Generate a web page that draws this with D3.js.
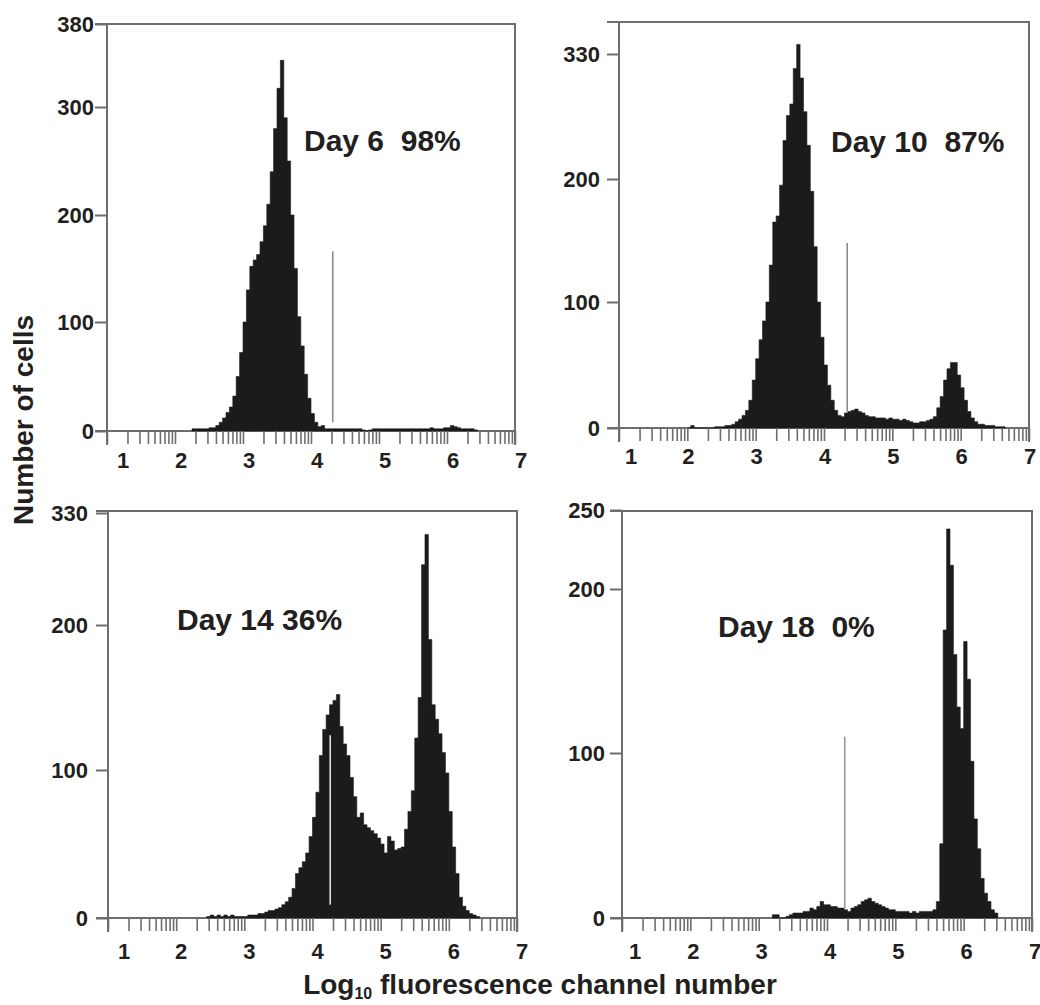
<!DOCTYPE html>
<html>
<head>
<meta charset="utf-8">
<script src="https://cdn.jsdelivr.net/npm/d3@7"></script>
<style>
  body { margin: 0; background: #fff; }
  svg { display: block; }
</style>
</head>
<body>
<div id="container"></div>
<script>
// histogram bins are 0.05 log10 units wide
const binWidth = 0.05

const dayLabels = ["Day 6  98%", "Day 10  87%", "Day 14 36%", "Day 18  0%"]
const binStarts = [2.25, 2.00, 2.45, 3.20]

const countsDay6 = [
    2, 2, 2, 2, 2, 3, 3, 5, 8, 12,
    17, 22, 32, 50, 72, 100, 130, 152, 158, 163,
    175, 190, 210, 240, 280, 318, 345, 290, 250, 200,
    150, 105, 78, 52, 30, 16, 8, 4, 5,
    2, 2, 2, 2, 2, 2, 2, 2, 2, 2, 2,
    1, 0, 1,
    2, 2, 2, 2, 2, 2, 2, 2, 2, 2, 2, 2, 2, 2, 2, 2, 2,
    3, 2, 2, 2, 3, 3, 5, 4, 3, 2, 2, 2, 2, 1
]
const countsDay10 = [
    0, 2, 0, 0, 0, 0, 0, 0, 1, 1,
    1, 2, 2, 3, 5, 7, 10, 14, 22, 38,
    55, 70, 85, 100, 130, 165, 170, 195, 240, 266,
    278, 315, 340, 305, 270, 235, 190, 145, 100, 72,
    50, 34, 22, 14, 10, 9, 12, 13, 14, 15,
    13, 12, 10, 9, 9, 8, 8, 8, 7, 8,
    7, 7, 6, 7, 6, 5, 4, 4, 5, 5,
    6, 7, 9, 16, 25, 38, 47, 52, 52, 42,
    32, 22, 13, 8, 5, 3, 3, 2, 2, 2,
    1, 1, 1
]
const countsDay14 = [
    1, 2, 1, 2, 1, 2, 1, 2, 1, 1,
    1, 1, 2, 2, 2, 3, 3, 4, 5, 5,
    6, 7, 9, 11, 14, 20, 30, 34, 38, 44,
    55, 68, 85, 110, 128, 138, 145, 148, 152, 130,
    118, 110, 95, 82, 68, 71, 63, 61, 59, 57,
    54, 50, 44, 55, 52, 46, 47, 48, 60, 72,
    86, 122, 150, 270, 305, 190, 145, 135, 125, 112,
    98, 72, 48, 30, 14, 8, 5, 3, 2, 1
]
const countsDay18 = [
    2, 2, 0, 0, 1, 2, 3, 3, 3, 4,
    4, 6, 5, 7, 10, 8, 8, 7, 7, 6,
    6, 5, 4, 6, 7, 8, 10, 11, 12, 10,
    9, 8, 7, 6, 5, 5, 4, 4, 4, 4,
    3, 4, 3, 4, 4, 4, 4, 5, 10, 45,
    175, 238, 215, 160, 128, 115, 168, 145, 95, 60,
    42, 24, 15, 10, 5, 3
]

const yTicksDay6 = [0, 100, 200, 300, 380]
const yTicksDay10 = [0, 100, 200, 330]
const yTicksDay14 = [0, 100, 200, 330]
const yTicksDay18 = [0, 100, 200, 250]

const xTickLabels = [1, 2, 3, 4, 5, 6, 7]

// gate marker: position and bottom/top counts
const gatePos = [4.32, 4.34, 4.26, 4.26]
const gateLow = [8, 12, 9, 6]
const gateHigh = [166, 148, 124, 110]

let textColor = "#231f20"
let frameColor = "#6e6e6e"
let histColor = "#1b1b1b"
let font = "'Liberation Sans', Arial, Helvetica, sans-serif"

// layout of each panel (pixels)
let layout = [
    {left: 107, right: 515, top: 24, base: 431, yPx: [431, 322, 215, 107, 24], gap: 13, labelY: 460, shift: 6, firstShift: 16, tx: 304, ty: 151, gateColor: "#8a8a8a"},
    {left: 619, right: 1029, top: 22, base: 428, yPx: [428, 302, 179, 54], gap: 19, labelY: 456, shift: 1, firstShift: 12, tx: 831, ty: 152, gateColor: "#8a8a8a"},
    {left: 108, right: 517, top: 511, base: 918, yPx: [918, 770, 625, 513], gap: 20, labelY: 951, shift: 5, firstShift: 16, tx: 177, ty: 630, gateColor: "#e0e0e0"},
    {left: 622, right: 1032, top: 511, base: 918, yPx: [918, 753, 589, 510], gap: 17, labelY: 951, shift: 3, firstShift: 13, tx: 718, ty: 637, gateColor: "#999999"}
]

let countsAll = [countsDay6, countsDay10, countsDay14, countsDay18]
let yTicksAll = [yTicksDay6, yTicksDay10, yTicksDay14, yTicksDay18]

let panels = layout.map((p, i) => Object.assign({}, p, {
    label: dayLabels[i],
    start: binStarts[i],
    counts: countsAll[i],
    yTicks: yTicksAll[i],
    gate: gatePos[i],
    gateLow: gateLow[i],
    gateHigh: gateHigh[i]
}))

let width = 1040
let height = 1005

let svg = d3.select("#container")
    .append("svg")
    .attr("width", width)
    .attr("height", height)
    .attr("viewBox", [0, 0, width, height])

// minor ticks of a log axis, 10^1 .. 10^7, in log10 units
let minorTicks = d3.scaleLog().domain([1e1, 1e7]).ticks().map(t => Math.log10(t))

function drawPanel(p) {
    let g = svg.append("g")

    let x = d3.scaleLinear()
        .domain([1, 7])
        .range([p.left, p.right])

    let y = d3.scaleLinear()
        .domain(p.yTicks)
        .range(p.yPx)

    // baseline at zero
    g.append("line")
        .attr("x1", p.left - 12)
        .attr("x2", p.right)
        .attr("y1", y(0))
        .attr("y2", y(0))
        .attr("stroke", frameColor)
        .attr("stroke-width", 2)

    // histogram
    let pts = p.counts.map((c, i) => ({v: p.start + i * binWidth, c: c}))
    pts.push({v: p.start + p.counts.length * binWidth, c: 0})

    let area = d3.area()
        .curve(d3.curveStepAfter)
        .x(d => x(d.v))
        .y0(y(0))
        .y1(d => y(d.c))

    g.append("path")
        .datum(pts)
        .attr("fill", histColor)
        .attr("stroke", histColor)
        .attr("stroke-width", 0.6)
        .attr("d", area)

    // log minor ticks under the baseline
    g.append("g")
        .attr("transform", `translate(0,${p.base})`)
        .call(d3.axisBottom(x).tickValues(minorTicks).tickSize(13).tickFormat(""))
        .call(a => a.select(".domain").remove())
        .call(a => a.selectAll("line").attr("stroke", frameColor).attr("stroke-width", 1.6))

    // frame
    g.append("path")
        .attr("d", `M${p.left},${p.base + 14}V${p.top}H${p.right}V${p.base + 14}`)
        .attr("fill", "none")
        .attr("stroke", frameColor)
        .attr("stroke-width", 2)
    g.append("line")
        .attr("x1", p.left - 12)
        .attr("x2", p.left)
        .attr("y1", p.top)
        .attr("y2", p.top)
        .attr("stroke", frameColor)
        .attr("stroke-width", 2)

    // y axis
    g.append("g")
        .attr("transform", `translate(${p.left},0)`)
        .call(d3.axisLeft(y).tickValues(p.yTicks).tickSize(12).tickPadding(p.gap - 12))
        .call(a => a.select(".domain").remove())
        .call(a => a.selectAll("line").attr("stroke", frameColor).attr("stroke-width", 2))
        .attr("font-family", font)
        .attr("font-size", 22)
        .attr("font-weight", "bold")
        .call(a => a.selectAll("text").attr("fill", textColor))

    // x tick labels
    g.append("g")
        .selectAll("text")
        .data(xTickLabels)
        .join("text")
            .attr("x", (d, i) => x(d) + (i == 0 ? p.firstShift : p.shift))
            .attr("y", p.labelY)
            .attr("dy", "0.35em")
            .attr("text-anchor", "middle")
            .attr("font-family", font)
            .attr("font-size", 22)
            .attr("font-weight", "bold")
            .attr("fill", textColor)
            .text(d => d)

    // gate marker
    g.append("line")
        .attr("x1", x(p.gate))
        .attr("x2", x(p.gate))
        .attr("y1", y(p.gateLow))
        .attr("y2", y(p.gateHigh))
        .attr("stroke", p.gateColor)
        .attr("stroke-width", 1.6)

    // day label
    g.append("text")
        .attr("x", p.tx)
        .attr("y", p.ty)
        .attr("font-family", font)
        .attr("font-size", 30)
        .attr("font-weight", "bold")
        .attr("fill", textColor)
        .style("white-space", "pre")
        .text(p.label)
}

panels.forEach(drawPanel)

// axis titles
svg.append("text")
    .attr("transform", "translate(33,420) rotate(-90)")
    .attr("text-anchor", "middle")
    .attr("font-family", font)
    .attr("font-size", 28)
    .attr("font-weight", "bold")
    .attr("fill", textColor)
    .text("Number of cells")

let xTitle = svg.append("text")
    .attr("x", 540)
    .attr("y", 994)
    .attr("text-anchor", "middle")
    .attr("font-family", font)
    .attr("font-size", 28)
    .attr("font-weight", "bold")
    .attr("fill", textColor)
xTitle.append("tspan").text("Log")
xTitle.append("tspan").attr("font-size", 16).attr("dy", 5).text("10")
xTitle.append("tspan").attr("dy", -5).text(" fluorescence channel number")
</script>
</body>
</html>
